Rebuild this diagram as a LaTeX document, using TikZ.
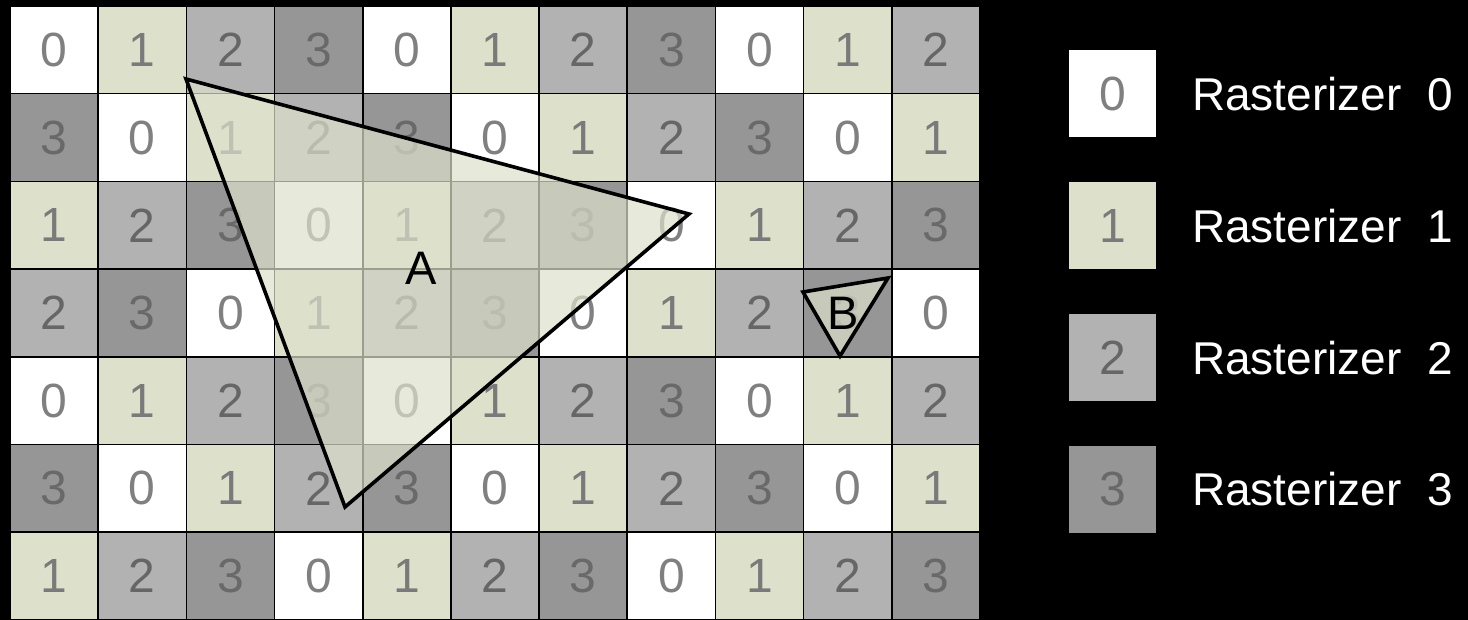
\documentclass[tikz,border=0pt]{standalone}
\usepackage{fontspec}
\setmainfont{Liberation Sans}
\usetikzlibrary{positioning}

\definecolor{rast0}{HTML}{FFFFFF}
\definecolor{rast1}{HTML}{DDE1CC}
\definecolor{rast2}{HTML}{B2B2B2}
\definecolor{rast3}{HTML}{969696}
\definecolor{digit0}{HTML}{808080}
\definecolor{digit1}{HTML}{7A7A7A}
\definecolor{digit2}{HTML}{666666}
\definecolor{digit3}{HTML}{696969}

\begin{document}
\begin{tikzpicture}[
  x=1pt, y=-1pt,
  cell/.style={draw=black, line width=1.6pt, minimum width=88.18pt,
               minimum height=87.7pt, inner sep=0pt, outer sep=0pt,
               font=\fontsize{48}{48}\selectfont},
  key/.style={minimum size=87pt, inner sep=0pt, outer sep=0pt,
              font=\fontsize{48}{48}\selectfont},
  keytext/.style={text=white, inner sep=0pt, anchor=west,
                  font=\fontsize{46}{46}\selectfont},
  prim/.style={draw=black, line width=3.6pt, line join=miter,
               fill=rast1, fill opacity=0.7},
  primlabel/.style={inner sep=0pt, font=\fontsize{47}{47}\selectfont},
]

% ---- background ------------------------------------------------------
\fill[black] (0,0) rectangle (1468,620);
\useasboundingbox (0,0) rectangle (1468,620);

% ---- tile grid: rows shift the rasterizer pattern ------------------
\foreach \r/\off in {0/0,1/3,2/1,3/2,4/0,5/3,6/1} {
  \foreach \c in {0,...,10} {
    \pgfmathtruncatemacro{\v}{mod(\c+\off,4)}
    \node[cell, fill=rast\v, text=digit\v] (cell-\r-\c)
      at ({10+88.18*(\c+0.5)}, {6+87.7*(\r+0.5)}) {\v};
  }
}

% ---- primitive A -----------------------------------------------------
\coordinate (a1) at (186,79);
\coordinate (a2) at (689,214);
\coordinate (a3) at (345,507);
\filldraw[prim] (a1) -- (a2) -- (a3) -- cycle;
\node[primlabel] (labA) at (421,268) {A};

% ---- primitive B -----------------------------------------------------
\coordinate (b1) at (803,292);
\coordinate (b2) at (888,278);
\coordinate (b3) at (840,356);
\filldraw[prim] (b1) -- (b2) -- (b3) -- cycle;
\node[primlabel] (labB) at (843,313) {B};

% ---- legend ----------------------------------------------------------
\foreach \k in {0,...,3} {
  \node[key, fill=rast\k, text=digit\k] (key\k) at (1112.5, {94+131.8*\k}) {\k};
  \node[keytext, right=36pt of key\k] (keytext\k) {Rasterizer\ \ \k};
}

\end{tikzpicture}
\end{document}
